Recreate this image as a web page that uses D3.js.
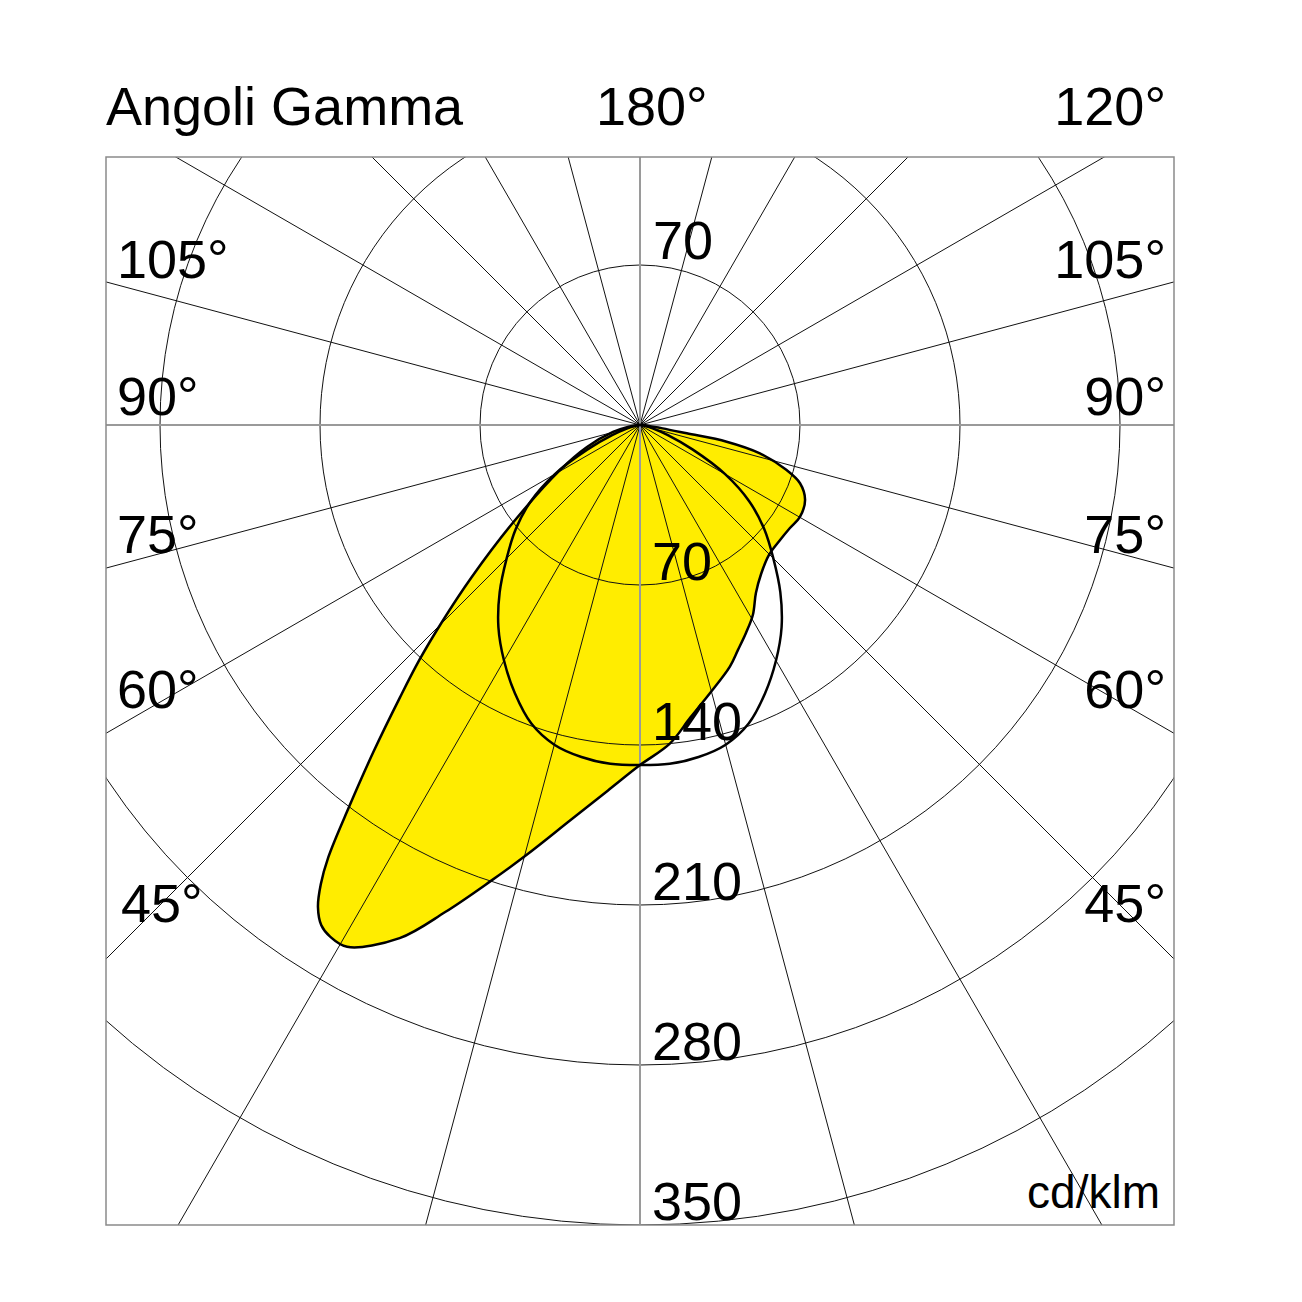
<!DOCTYPE html>
<html><head><meta charset="utf-8">
<script src="https://cdn.jsdelivr.net/npm/d3@7"></script>
<style>body{margin:0;background:#fff}text{font-family:"Liberation Sans",Arial,Helvetica,sans-serif;fill:#000}</style>
</head><body>
<svg id="c" width="1302" height="1302"></svg>
<script>
// ---- data ----
const radialTicks = [70, 140, 210, 280, 350];
const gridAngles = d3.range(0, 360, 15);
const leftAngleLabels = ["105°", "90°", "75°", "60°", "45°"];
const rightAngleLabels = ["105°", "90°", "75°", "60°", "45°"];
const topLabels = ["180°", "120°"];
const titleText = "Angoli Gamma";
const unitText = "cd/klm";

// yellow curve, left half plane (gamma from 90 down to 0), cd/klm
const yellowLeftGamma = [90, 86, 82, 75.5, 67.5, 60.6, 52.4, 47.9, 45.1, 43.2, 41.4, 39.2, 37.3, 35.8, 34.8, 33.75, 32.5, 31.2, 29.3, 25.1, 21.8, 18.2, 14.8, 10, 5, 0];
const yellowLeftCd    = [0, 1.5, 5, 12.2, 25.1, 40.2, 70.3, 99.2, 122.7, 141, 158.7, 184.5, 210.1, 233.1, 244.7, 253.6, 259.5, 261.7, 261.8, 247.9, 229.5, 210.3, 194.6, 175.6, 160.5, 148.8];
// yellow curve, right half plane (gamma from 5.4 up to 90)
const yellowRightGamma = [5.4, 9.7, 14.6, 20.4, 23.5, 27, 30.7, 34.6, 39.1, 44.8, 50.6, 55.5, 60.2, 65.6, 70, 72.9, 76.7, 79.1, 79.9, 81.5, 84, 87, 90];
const yellowRightCd    = [139.9, 130, 121.3, 112.8, 107.4, 102.1, 96.7, 89.3, 84, 80.1, 79.3, 79.6, 80.7, 79.3, 74.5, 67.1, 53.9, 38.6, 20.8, 10, 4, 1, 0];
// black curve, symmetric half plane (gamma 0..90)
const blackGamma = [0, 5, 10, 15, 20, 25, 30, 35, 40, 45, 50, 55, 60, 65, 70, 75, 80, 85, 90];
const blackCd    = [148.8, 148.8, 147.5, 144.8, 139, 129.5, 119, 108, 95.5, 82.5, 71, 58.5, 43, 25.5, 13, 6, 2, 0.5, 0];

// ---- layout ----
const cx = 640, cy = 425;
const box = {x0: 106, y0: 157, x1: 1174, y1: 1225};
const sideLabelBaselines = [278, 415, 553, 708, 922];
const sideLabelLeftX = [117, 117, 117, 117, 121];
const radialLabelBaselines = [580, 740, 900, 1060, 1220];

const svg = d3.select("#c");
const r = d3.scaleLinear().domain([0, 350]).range([0, 800]);
const rad = d => d * Math.PI / 180;
const pt = (g, v, side) => [cx + side * r(v) * Math.sin(rad(g)), cy + r(v) * Math.cos(rad(g))];

svg.append("defs").append("clipPath").attr("id", "clip")
  .append("rect").attr("x", box.x0).attr("y", box.y0)
  .attr("width", box.x1 - box.x0).attr("height", box.y1 - box.y0);

const line = d3.line().curve(d3.curveCatmullRom.alpha(0.5));

const yPts = [];
yellowLeftGamma.forEach((g, i) => yPts.push(pt(g, yellowLeftCd[i], -1)));
yellowRightGamma.forEach((g, i) => yPts.push(pt(g, yellowRightCd[i], 1)));
const bPts = [];
for (let i = blackGamma.length - 1; i >= 0; i--) bPts.push(pt(blackGamma[i], blackCd[i], -1));
for (let i = 1; i < blackGamma.length; i++) bPts.push(pt(blackGamma[i], blackCd[i], 1));

svg.append("path").attr("d", line(yPts) + "Z").attr("fill", "#ffed00").attr("stroke", "none");

const grid = svg.append("g").attr("clip-path", "url(#clip)");
grid.selectAll("circle").data(radialTicks).join("circle")
  .attr("cx", cx).attr("cy", cy).attr("r", d => r(d))
  .attr("fill", "none").attr("stroke", "#111").attr("stroke-width", 1);
grid.selectAll("line.rl").data(gridAngles.filter(a => a % 90 !== 0)).join("line")
  .attr("class", "rl")
  .attr("x1", cx).attr("y1", cy)
  .attr("x2", a => cx + 1600 * Math.sin(rad(a)))
  .attr("y2", a => cy + 1600 * Math.cos(rad(a)))
  .attr("stroke", "#111").attr("stroke-width", 1);
grid.selectAll("line.gl").data(gridAngles.filter(a => a % 90 === 0)).join("line")
  .attr("class", "gl")
  .attr("x1", cx).attr("y1", cy)
  .attr("x2", a => cx + 1600 * Math.sin(rad(a)))
  .attr("y2", a => cy + 1600 * Math.cos(rad(a)))
  .attr("stroke", "#9a9a9a").attr("stroke-width", 2);

svg.append("rect").attr("x", box.x0).attr("y", box.y0)
  .attr("width", box.x1 - box.x0).attr("height", box.y1 - box.y0)
  .attr("fill", "none").attr("stroke", "#8a8a8a").attr("stroke-width", 1.5);

svg.append("path").attr("d", line(bPts) + "Z").attr("fill", "none")
  .attr("stroke", "#000").attr("stroke-width", 2.5);
svg.append("path").attr("d", line(yPts) + "Z").attr("fill", "none")
  .attr("stroke", "#000").attr("stroke-width", 2.5).attr("stroke-linejoin", "round");

// text
const fs = 54;
svg.append("text").attr("x", 106).attr("y", 125).attr("font-size", fs).text(titleText);
svg.append("text").attr("x", 596).attr("y", 125).attr("font-size", fs).text(topLabels[0]);
svg.append("text").attr("x", 1166).attr("y", 125).attr("font-size", fs).attr("text-anchor", "end").text(topLabels[1]);

svg.selectAll("text.ll").data(leftAngleLabels).join("text").attr("class", "ll")
  .attr("x", (d, i) => sideLabelLeftX[i]).attr("y", (d, i) => sideLabelBaselines[i])
  .attr("font-size", fs).text(d => d);
svg.selectAll("text.rl").data(rightAngleLabels).join("text").attr("class", "rl")
  .attr("x", 1166).attr("y", (d, i) => sideLabelBaselines[i])
  .attr("text-anchor", "end").attr("font-size", fs).text(d => d);

svg.append("text").attr("x", 653).attr("y", 259).attr("font-size", fs).text(radialTicks[0]);
svg.selectAll("text.rt").data(radialTicks).join("text").attr("class", "rt")
  .attr("x", 652).attr("y", (d, i) => radialLabelBaselines[i])
  .attr("font-size", fs).text(d => d);

svg.append("text").attr("x", 1160).attr("y", 1208).attr("font-size", 46)
  .attr("text-anchor", "end").text(unitText);
</script>
</body></html>
